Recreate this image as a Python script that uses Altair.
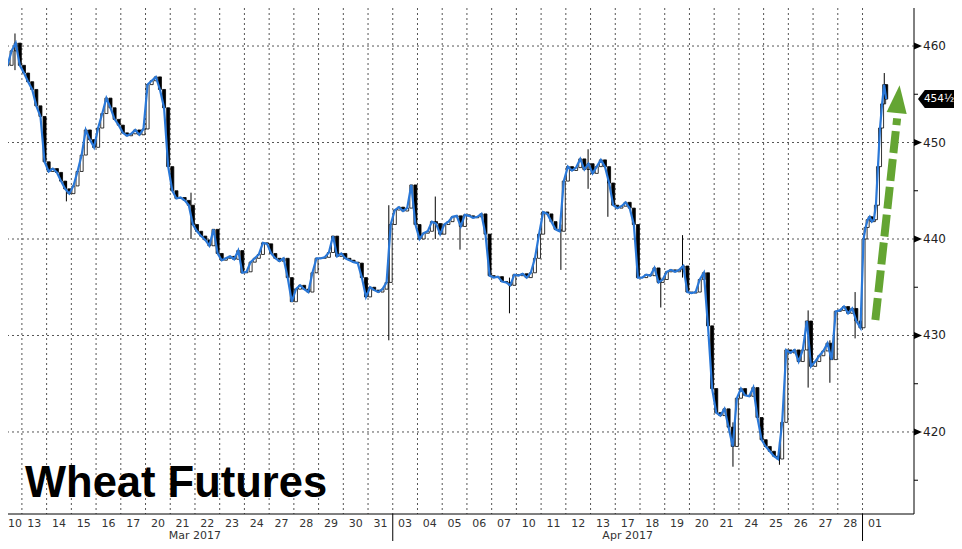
import altair as alt
import pandas as pd

# ---------------- data ----------------
day_labels = ["10", "13", "14", "15", "16", "17", "20", "21", "22", "23", "24", "27", "28", "29", "30", "31",
              "03", "04", "05", "06", "07", "10", "11", "12", "13", "17", "18", "19", "20", "21", "24", "25",
              "26", "27", "28", "01"]
month_names = ["Mar 2017", "Apr 2017"]
month_day_counts = [16, 19]

prices_by_day = [
    [458.8, 458.3, 458.0, 459.5, 460.3, 458.0],
    [457.2, 456.3, 455.5, 453.8, 452.7, 448.0],
    [447.0, 447.3, 446.9, 446.0, 445.2, 444.7],
    [445.5, 447.0, 448.7, 451.3, 450.3, 449.5],
    [451.5, 453.0, 454.6, 453.6, 452.4, 451.8],
    [451.0, 450.7, 450.9, 451.3, 450.8, 451.4],
    [456.0, 456.4, 456.8, 455.5, 453.6, 447.5],
    [445.0, 444.2, 444.3, 444.0, 443.5, 441.5],
    [440.8, 440.3, 439.9, 439.3, 441.0, 438.5],
    [437.8, 438.0, 438.2, 437.9, 438.8, 436.5],
    [436.6, 437.6, 438.0, 438.4, 439.6, 439.5],
    [438.5, 438.0, 437.7, 438.0, 436.0, 433.5],
    [434.8, 435.2, 434.8, 434.5, 436.5, 438.0],
    [438.0, 438.1, 438.6, 440.3, 438.2, 438.5],
    [438.0, 437.8, 437.6, 437.5, 436.0, 434.0],
    [435.0, 434.7, 434.5, 434.8, 435.5, 441.5],
    [443.0, 443.3, 442.9, 443.2, 445.6, 441.5],
    [440.0, 440.6, 440.8, 441.8, 441.6, 440.5],
    [441.5, 441.8, 442.3, 442.4, 441.3, 442.5],
    [442.4, 442.2, 442.3, 442.6, 440.5, 436.2],
    [436.0, 436.1, 435.6, 435.5, 435.2, 436.3],
    [436.2, 436.4, 436.0, 436.5, 438.0, 440.5],
    [442.8, 442.6, 441.8, 441.0, 440.8, 446.0],
    [447.5, 447.1, 447.4, 448.3, 447.2, 447.8],
    [446.8, 447.5, 448.2, 447.5, 445.8, 443.5],
    [443.2, 443.4, 443.8, 443.2, 441.5, 436.0],
    [436.0, 436.3, 436.2, 437.0, 435.5, 435.8],
    [436.6, 436.8, 436.6, 436.8, 437.2, 434.5],
    [434.4, 434.5, 435.8, 436.5, 431.0, 424.5],
    [422.0, 421.7, 422.4, 420.5, 418.5, 423.5],
    [424.5, 423.8, 423.7, 424.6, 421.5, 419.2],
    [418.5, 418.0, 417.5, 417.2, 421.0, 428.5],
    [428.2, 428.5, 427.3, 428.5, 431.5, 426.8],
    [427.3, 427.9, 428.4, 429.2, 427.5, 432.5],
    [432.6, 433.0, 432.3, 432.8, 431.5, 430.8],
    [440.0, 441.2, 442.0, 442.3, 441.8, 442.0, 443.5, 447.5, 451.5, 454.0, 456.0, 454.5],
]

# notable intraday spikes (position in trading days, low, high)
wick_day = [0.72, 2.8, 7.84, 15.84, 17.72, 18.72, 20.72, 22.8, 23.9, 24.7, 26.84, 27.72, 29.76, 31.64,
            32.8, 33.68, 34.7, 35.88]
wick_low = [457.5, 443.9, 440.0, 429.5, 440.0, 438.9, 432.3, 436.8, 445.2, 442.3, 432.9, 436.0, 416.4,
            416.6, 424.6, 425.1, 429.7, 454.0]
wick_high = [461.3, 446.0, 444.8, 443.5, 444.4, 442.0, 436.0, 441.5, 449.3, 446.5, 436.0, 440.4, 421.0,
             419.0, 432.6, 429.5, 434.5, 457.2]

grid_y = [420, 430, 440, 450, 460]
tick_y = [415, 420, 425, 430, 435, 440, 445, 450, 455, 460]
last_price = [454.5]
last_label = ["454\u00bd"]

arrow_day = [35.52, 36.40]
arrow_val = [431.6, 452.5]
arrow_head_day = [36.44]
arrow_head_val = [454.5]

title_text = ["Wheat Futures"]

# ---------------- tables ----------------
W, H = 906, 506
x_dom = [0.64, 36.88]
y_dom = [411.5, 463.94]
xs = alt.Scale(domain=x_dom, nice=False, zero=False)
ys = alt.Scale(domain=y_dom, nice=False, zero=False)

rows = []
for i, day in enumerate(prices_by_day):
    n = len(day)
    for j, p in enumerate(day):
        rows.append({"d": i + (j + 0.5) / n, "close": p})
price = pd.DataFrame(rows)
price["open"] = price["close"].shift(1).fillna(price["close"])

n_days = len(day_labels)
days = pd.DataFrame({"c": [i + 0.5 for i in range(1, n_days)], "lab": day_labels[1:]})
first_day = pd.DataFrame({"lab": day_labels[:1]})
bounds = pd.DataFrame({"d": list(range(1, n_days))})

m_start, m_centers, m_edges = 0, [], []
for cnt in month_day_counts:
    m_centers.append(m_start + cnt / 2)
    m_start += cnt
    m_edges.append(m_start)
months = pd.DataFrame({"c": m_centers, "lab": month_names})
medges = pd.DataFrame({"d": m_edges})

wicks = pd.DataFrame({"d": wick_day, "low": wick_low, "high": wick_high})
gy = pd.DataFrame({"v": grid_y, "lab": [str(v) for v in grid_y]})
ty = pd.DataFrame({"v": tick_y})
lastdf = pd.DataFrame({"v": last_price, "t": last_label})
arrow = pd.DataFrame({"d": arrow_day, "v": arrow_val})
ahead = pd.DataFrame({"d": arrow_head_day, "v": arrow_head_val})
ttl = pd.DataFrame({"t": title_text})
bottom = pd.DataFrame({"v": [y_dom[0]]})

grid_col = "#555555"
blue = "#2a78d8"
green = "#64a532"
lab_col = "#333333"

X = lambda f: alt.X(f, scale=xs, axis=None)
Y = lambda f: alt.Y(f, scale=ys, axis=None)

# ---------------- layers ----------------
hgrid = alt.Chart(gy).mark_rule(color=grid_col, strokeDash=[2, 3], strokeWidth=1).encode(y=Y("v:Q"))
vgrid = alt.Chart(bounds).mark_rule(color=grid_col, strokeDash=[2, 3], strokeWidth=1).encode(x=X("d:Q"))
xline = alt.Chart(bottom).mark_rule(color="black", strokeWidth=1).encode(y=Y("v:Q"))
yline = alt.Chart(bottom).mark_rule(color="black", strokeWidth=1).encode(
    x=alt.value(W), y=alt.value(0), y2=alt.value(H))
yticks = alt.Chart(ty).mark_rule(color="black", strokeWidth=1).encode(
    y=Y("v:Q"), x=alt.value(W), x2=alt.value(W + 4))
tris = alt.Chart(gy).mark_point(shape="M -1 -0.9 L 1 0 L -1 0.9 Z", size=64, filled=True,
                                color="black", opacity=1).encode(x=alt.value(W + 4), y=Y("v:Q"))
ylabs = alt.Chart(gy).mark_text(font="DejaVu Sans", fontSize=12, color="#222222", align="left",
                                baseline="middle").encode(x=alt.value(W + 9), y=Y("v:Q"), text="lab:N")

candles = alt.Chart(price).mark_bar(size=3, stroke="black", strokeWidth=0.8, orient="vertical",
                                    clip=True).encode(
    x=X("d:Q"), y=Y("open:Q"), y2="close:Q",
    fill=alt.condition("datum.close >= datum.open", alt.value("white"), alt.value("black")))
wick = alt.Chart(wicks).mark_rule(color="black", strokeWidth=1, clip=True).encode(
    x=X("d:Q"), y=Y("low:Q"), y2="high:Q")
line = alt.Chart(price).mark_line(color=blue, strokeWidth=2.2, clip=True).encode(
    x=X("d:Q"), y=Y("close:Q"))

box_path = "M -1 0 L -0.62 -0.5 L 1 -0.5 L 1 0.5 L -0.62 0.5 Z"
pbox = alt.Chart(lastdf).mark_point(shape=box_path, size=1296, filled=True, color="black", opacity=1).encode(
    x=alt.value(W + 22), y=Y("v:Q"))
ptext = alt.Chart(lastdf).mark_text(font="DejaVu Sans", fontSize=10.5, color="white", align="center",
                                    baseline="middle").encode(x=alt.value(W + 25), y=Y("v:Q"), text="t:N")

arr = alt.Chart(arrow).mark_line(color=green, strokeWidth=8, strokeDash=[22, 6], strokeCap="butt").encode(
    x=X("d:Q"), y=Y("v:Q"))
arrh = alt.Chart(ahead).mark_point(shape="M 0 -1 L 0.72 1 L -0.72 1 Z", size=784, angle=6, filled=True,
                                   color=green, opacity=1).encode(x=X("d:Q"), y=Y("v:Q"))

title = alt.Chart(ttl).mark_text(font="Liberation Sans", fontWeight="bold", fontSize=43.5, color="black",
                                 align="left", baseline="alphabetic").encode(
    x=alt.value(17), y=alt.value(489), text="t:N")

dlab = alt.Chart(days).mark_text(font="DejaVu Sans", fontSize=11, color=lab_col, align="center",
                                 baseline="middle").encode(x=X("c:Q"), y=alt.value(H + 10), text="lab:N")
dlab0 = alt.Chart(first_day).mark_text(font="DejaVu Sans", fontSize=11, color=lab_col, align="left",
                                       baseline="middle").encode(x=alt.value(0), y=alt.value(H + 10),
                                                                 text="lab:N")
mlab = alt.Chart(months).mark_text(font="DejaVu Sans", fontSize=11, color=lab_col, align="center",
                                   baseline="middle").encode(x=X("c:Q"), y=alt.value(H + 22), text="lab:N")
msep = alt.Chart(medges).mark_rule(color="black", strokeWidth=1).encode(
    x=X("d:Q"), y=alt.value(H), y2=alt.value(H + 40))

chart = alt.layer(
    hgrid, vgrid, candles, wick, line, xline, yline, yticks, tris, ylabs, msep, arr, arrh,
    pbox, ptext, title, dlab, dlab0, mlab
).properties(
    width=W, height=H,
    autosize=alt.AutoSizeParams(type="none"),
    padding={"left": 0, "top": 0, "right": 40, "bottom": 27},
    background="white",
).configure_view(stroke=None)

chart.save("out.html", embed_options={"renderer": "svg", "actions": False})
